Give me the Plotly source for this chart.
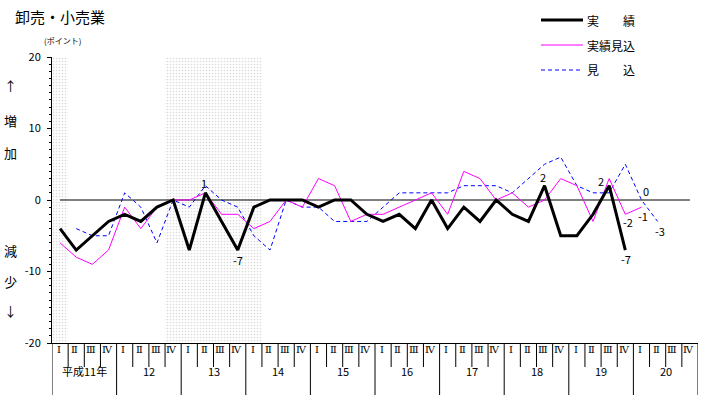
import plotly.graph_objects as go

# ---- data ----
years = ["平成11年", "12", "13", "14", "15", "16", "17", "18", "19", "20"]
quarters = ["Ⅰ", "Ⅱ", "Ⅲ", "Ⅳ"]
n_q = len(years) * len(quarters)
xq = list(range(n_q))

jisseki = [-4, -7, -5, -3, -2, -3, -1, 0, -7, 1, -3, -7, -1, 0, 0, 0, -1, 0, 0, -2,
           -3, -2, -4, 0, -4, -1, -3, 0, -2, -3, 2, -5, -5, -2, 2, -7, None, None, None, None]
jisseki_mikomi = [-6, -8, -9, -7, -1, -4, -1, 0, 0, 1, -2, -2, -4, -3, 0, -1, 3, 2, -3, -2,
                  -2, -1, 0, 1, -2, 4, 3, 0, 1, -1, 0, 3, 2, -3, 3, -2, -1, None, None, None]
mikomi = [None, -4, -5, -5, 1, -1, -6, 0, -1, 2, 0, -1, -5, -7, 0, -1, -1, -3, -3, -3,
          -1, 1, 1, 1, 1, 2, 2, 2, 1, 3, 5, 6, 2, 1, 1, 5, 0, -3, None, None]

# recession (shaded) periods as quarter-index ranges
shade_periods = [(0, 0), (7, 12)]

# point labels: (series, index, xshift, yshift)
labels = [("j", 9, -1, 10), ("j", 11, 0, -10), ("j", 30, -2, 9), ("j", 34, -8, 5),
          ("j", 35, 1, -9), ("m", 35, 3, -8), ("m", 36, 2, -9), ("k", 36, 5, 9), ("k", 37, 2, -10)]

series = {"j": jisseki, "m": jisseki_mikomi, "k": mikomi}

FONT = "Noto Sans CJK JP"

fig = go.Figure()

# shaded periods (dotted pattern)
fig.add_trace(go.Bar(
    x=[(a + b) / 2 for a, b in shade_periods],
    width=[b - a + 1 for a, b in shade_periods],
    y=[40 for _ in shade_periods], base=[-20 for _ in shade_periods],
    marker=dict(color="white", line=dict(width=0),
                pattern=dict(shape=".", fgcolor="#b8b8b8", bgcolor="white", size=3, solidity=0.25)),
    showlegend=False, hoverinfo="skip"))

# zero line
fig.add_trace(go.Scatter(x=[xq[0], xq[-1]], y=[0, 0], mode="lines",
                         line=dict(color="black", width=1), showlegend=False, hoverinfo="skip"))

fig.add_trace(go.Scatter(x=xq, y=mikomi, mode="lines", name="見　　込",
                         line=dict(color="#0000ff", width=1, dash="4px,3px"), showlegend=False))
fig.add_trace(go.Scatter(x=xq, y=jisseki_mikomi, mode="lines", name="実績見込",
                         line=dict(color="#ff00ff", width=1), showlegend=False))
fig.add_trace(go.Scatter(x=xq, y=jisseki, mode="lines", name="実　　績",
                         line=dict(color="black", width=3), showlegend=False))

ann = []
shapes = []

# point labels
for s, i, dx, dy in labels:
    v = series[s][i]
    ann.append(dict(x=xq[i], y=v, text=str(v), showarrow=False, xshift=dx, yshift=dy,
                    font=dict(family=FONT, size=11, color="black")))

# bottom table
PH = 286.0
def py(px):  # pixel offset below plot bottom -> paper y
    return -px / PH

for k in range(n_q + 1):
    xx = k - 0.5
    if k % 4 == 0:
        shapes.append(dict(type="line", xref="x", yref="paper", x0=xx, x1=xx, y0=0, y1=py(52),
                           line=dict(color="black", width=1)))
    else:
        shapes.append(dict(type="line", xref="x", yref="paper", x0=xx, x1=xx, y0=0, y1=py(24),
                           line=dict(color="black", width=1)))

for k in range(n_q):
    ann.append(dict(x=k - 0.08, y=py(14), xref="x", yref="paper", text=quarters[k % 4],
                    showarrow=False, font=dict(family="DejaVu Serif, " + FONT, size=10, color="black")))
for yi, yl in enumerate(years):
    ann.append(dict(x=yi * 4 + 1.5, y=py(38), xref="x", yref="paper", text=yl,
                    showarrow=False, font=dict(family=FONT, size=11, color="black")))

# legend (custom)
def pxx(px):
    return (px - 52) / 646.0
def pyy(px):
    return (343 - px) / PH

legend_items = [("実　　績", "black", 3, "solid", 20),
                ("実績見込", "#ff00ff", 1, "solid", 45),
                ("見　　込", "#0000ff", 1, "4px,3px", 70)]
for name, col, w, dash, ypx in legend_items:
    shapes.append(dict(type="line", xref="paper", yref="paper", x0=pxx(541), x1=pxx(583),
                       y0=pyy(ypx), y1=pyy(ypx), line=dict(color=col, width=w, dash=dash)))
    ann.append(dict(x=pxx(585), y=pyy(ypx), xref="paper", yref="paper", text=name, showarrow=False,
                    xanchor="left", yanchor="middle", font=dict(family=FONT, size=12, color="black")))

# title and side texts
ann.append(dict(x=pxx(13), y=pyy(16), xref="paper", yref="paper", text="卸売・小売業", showarrow=False,
                xanchor="left", yanchor="middle", font=dict(family=FONT, size=15, color="black")))
ann.append(dict(x=pxx(62), y=pyy(41), xref="paper", yref="paper", text="(ポイント)", showarrow=False,
                xanchor="center", yanchor="middle", font=dict(family=FONT, size=8, color="black")))
for t, ypx in [("↑", 86), ("増", 120), ("加", 152), ("減", 250), ("少", 281), ("↓", 310)]:
    ann.append(dict(x=pxx(10), y=pyy(ypx), xref="paper", yref="paper", text=t, showarrow=False,
                    xanchor="center", yanchor="middle", font=dict(family=FONT, size=13, color="black")))

fig.update_layout(
    width=708, height=395,
    margin=dict(l=52, r=10, t=57, b=52),
    paper_bgcolor="white", plot_bgcolor="white",
    showlegend=False,
    xaxis=dict(range=[-0.5, n_q - 0.5], showgrid=False, zeroline=False, showticklabels=False,
               showline=True, linecolor="black", linewidth=1, ticks=""),
    yaxis=dict(range=[-20, 20], tickvals=[-20, -10, 0, 10, 20],
               ticktext=["-20", "-10", "0", "10", "20"], showgrid=False, zeroline=False,
               showline=True, linecolor="black", linewidth=1, ticks="outside", ticklen=4,
               tickcolor="black", ticklabelstandoff=4,
               minor=dict(dtick=1, ticks="outside", ticklen=2, tickcolor="black"),
               tickfont=dict(family=FONT, size=11, color="black")),
    annotations=ann, shapes=shapes, bargap=0,
)

fig.write_html("out.html")
